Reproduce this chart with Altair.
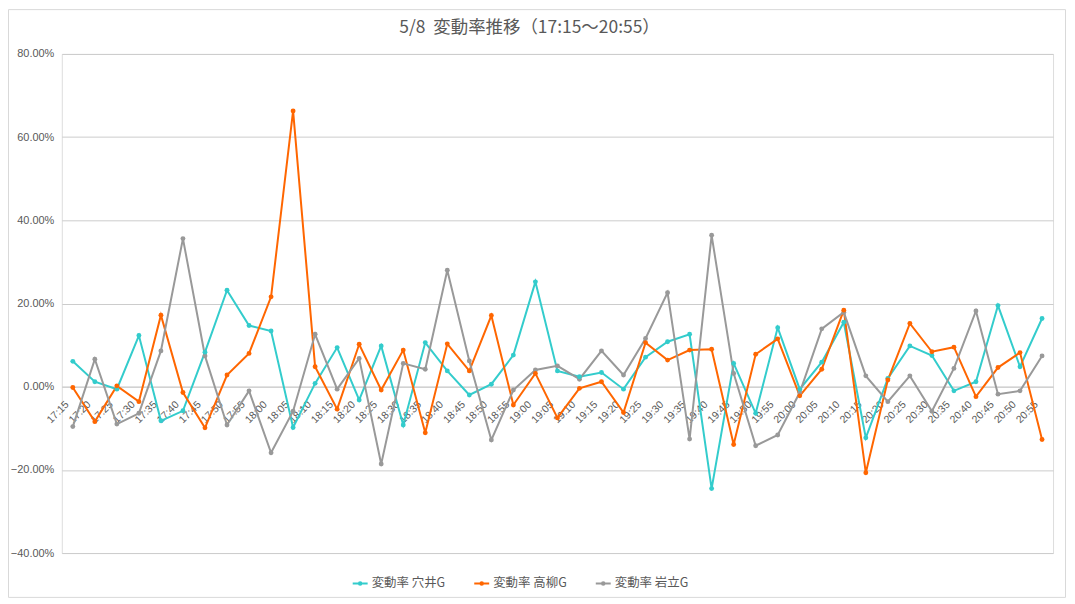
import altair as alt
import pandas as pd

times = ["17:15","17:20","17:25","17:30","17:35","17:40","17:45","17:50","17:55",
         "18:00","18:05","18:10","18:15","18:20","18:25","18:30","18:35","18:40","18:45","18:50","18:55",
         "19:00","19:05","19:10","19:15","19:20","19:25","19:30","19:35","19:40","19:45","19:50","19:55",
         "20:00","20:05","20:10","20:15","20:20","20:25","20:30","20:35","20:40","20:45","20:50","20:55"]

anai = [6.1, 1.2, -0.6, 12.3, -8.2, -5.8, 8.3, 23.2, 14.7, 13.4, -9.8, 0.8, 9.4, -3.2, 9.8,
        -9.2, 10.6, 3.8, -2.0, 0.6, 7.6, 25.2, 3.8, 2.4, 3.4, -0.6, 7.1, 10.8, 12.6,
        -24.5, 5.6, -6.4, 14.2, -0.6, 5.9, 15.5, -12.3, 2.0, 9.8, 7.5, -1.0, 1.2, 19.5, 4.8, 16.4]

takayanagi = [-0.2, -8.4, 0.2, -3.6, 17.2, -1.4, -9.9, 2.8, 8.0, 21.6, 66.3, 4.8, -5.4, 10.2, -0.8,
              8.8, -11.1, 10.3, 3.8, 17.1, -4.4, 3.2, -7.5, -0.4, 1.2, -6.2, 10.6, 6.4, 8.8,
              9.0, -13.9, 7.8, 11.5, -2.2, 4.2, 18.4, -20.7, 1.6, 15.2, 8.4, 9.5, -2.4, 4.6, 8.2, -12.7]

iwadate = [-9.6, 6.6, -9.0, -6.4, 8.6, 35.6, 7.4, -9.2, -1.0, -15.9, -5.9, 12.6, -0.6, 6.8, -18.6,
           5.6, 4.2, 28.0, 6.2, -12.8, -0.8, 4.0, 5.0, 1.8, 8.6, 2.8, 11.6, 22.6, -12.6,
           36.4, 3.2, -14.2, -11.6, -1.4, 13.9, 17.9, 2.6, -3.6, 2.6, -5.9, 4.4, 18.2, -1.8, -1.0, 7.4]

series_names = ["変動率 穴井G", "変動率 高柳G", "変動率 岩立G"]
series_colors = ["#33CCCC", "#FF6600", "#999999"]
y_ticks = [-40, -20, 0, 20, 40, 60, 80]

rows = []
for name, vals in zip(series_names, [anai, takayanagi, iwadate]):
    for t, v in zip(times, vals):
        rows.append({"time": t, "value": v, "series": name})
df = pd.DataFrame(rows)

W, H = 995, 501
FONT = "Noto Sans CJK JP"
LEG_PATH = "M-1,0H1M-0.17,0A0.17,0.17 0 1,0 0.17,0A0.17,0.17 0 1,0 -0.17,0Z"

lines = alt.Chart(df).mark_line(
    strokeWidth=2,
    point=alt.OverlayMarkDef(filled=True, size=24),
).encode(
    x=alt.X("time:O", sort=times, scale=alt.Scale(padding=0.5),
            axis=alt.Axis(title=None, labelAngle=-45, labelAlign="right", labelBaseline="middle",
                          labelPadding=16, labelOffset=-6, ticks=False, grid=False, offset=-167,
                          domainColor="#cccccc", labelColor="#595959", labelFontSize=10.5,
                          labelFont="Liberation Sans")),
    y=alt.Y("value:Q", scale=alt.Scale(domain=[-40, 80], nice=False),
            axis=alt.Axis(title=None, values=y_ticks, labelExpr="format(datum.value, '.2f') + '%'",
                          domain=False, ticks=False, gridColor="#cccccc", labelColor="#595959",
                          labelFontSize=11, labelFont="Liberation Sans", labelPadding=8)),
    color=alt.Color("series:N", sort=series_names,
                    scale=alt.Scale(domain=series_names, range=series_colors),
                    legend=alt.Legend(title=None, orient="none", direction="horizontal",
                                      legendX=291, legendY=523, symbolType=LEG_PATH, symbolSize=225,
                                      symbolStrokeWidth=2, labelFont=FONT, labelFontSize=12.5,
                                      labelColor="#595959", columnPadding=25, labelOffset=3,
                                      padding=0)),
    order=alt.Order("series:N"),
)

frame_df = pd.DataFrame({"a": [0]})
frame = alt.Chart(frame_df).mark_rect(fill=None, stroke="#d9d9d9", strokeWidth=1).encode(
    x=alt.value(-53.5), x2=alt.value(1007.5), y=alt.value(-44.5), y2=alt.value(545.5)
)

chart = alt.layer(frame, lines).properties(
    width=W, height=H,
    title=alt.TitleParams("5/8\u00a0\u00a0変動率推移（17:15～20:55）", font=FONT, fontSize=17.5,
                          fontWeight="normal", color="#595959", offset=0, dy=27, dx=-28,
                          frame="group", anchor="middle"),
    autosize=alt.AutoSizeParams(type="none"),
    padding={"left": 54, "top": 45, "right": 14, "bottom": 46},
).configure_view(stroke=None).configure(font=FONT)

chart.save("out.html", embed_options={"renderer": "svg", "actions": False})
